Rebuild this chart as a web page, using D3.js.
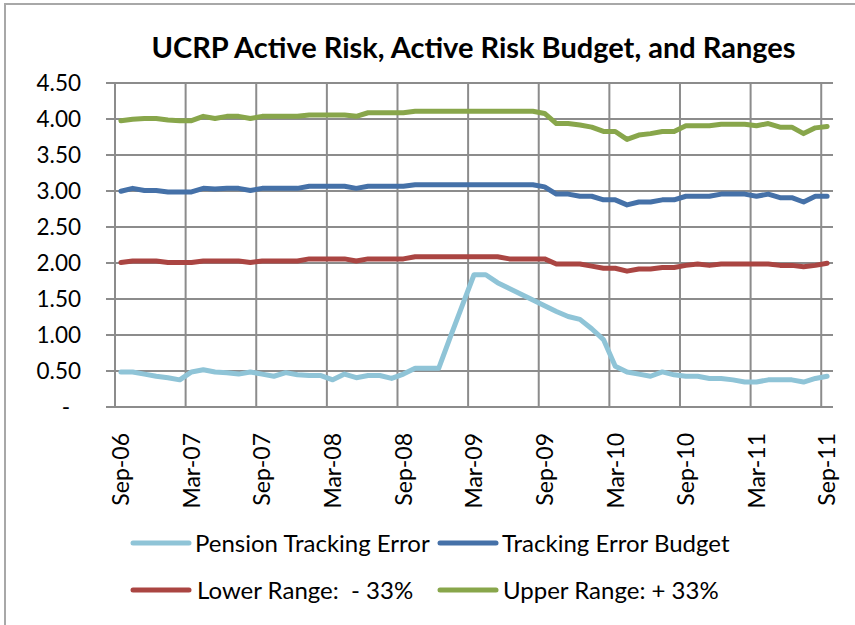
<!DOCTYPE html>
<html>
<head>
<meta charset="utf-8">
<script src="https://cdn.jsdelivr.net/npm/d3@7"></script>
<style>
  html, body { margin: 0; padding: 0; background: #fff; }
  svg { display: block; font-family: Lato, "Open Sans", sans-serif; }
</style>
</head>
<body>
<svg id="chart" width="855" height="625"></svg>
<script>
const title = "UCRP Active Risk, Active Risk Budget, and Ranges";

const months = [
  "Sep-06","Oct-06","Nov-06","Dec-06","Jan-07","Feb-07","Mar-07","Apr-07","May-07","Jun-07","Jul-07","Aug-07",
  "Sep-07","Oct-07","Nov-07","Dec-07","Jan-08","Feb-08","Mar-08","Apr-08","May-08","Jun-08","Jul-08","Aug-08",
  "Sep-08","Oct-08","Nov-08","Dec-08","Jan-09","Feb-09","Mar-09","Apr-09","May-09","Jun-09","Jul-09","Aug-09",
  "Sep-09","Oct-09","Nov-09","Dec-09","Jan-10","Feb-10","Mar-10","Apr-10","May-10","Jun-10","Jul-10","Aug-10",
  "Sep-10","Oct-10","Nov-10","Dec-10","Jan-11","Feb-11","Mar-11","Apr-11","May-11","Jun-11","Jul-11","Aug-11",
  "Sep-11"
];

const xTickLabels = ["Sep-06","Mar-07","Sep-07","Mar-08","Sep-08","Mar-09","Sep-09","Mar-10","Sep-10","Mar-11","Sep-11"];
const yTicks = [0, 0.5, 1, 1.5, 2, 2.5, 3, 3.5, 4, 4.5];

const pensionTrackingError = [
  0.48,0.48,0.45,0.42,0.40,0.37,0.48,0.51,0.48,0.47,0.45,0.48,
  0.45,0.42,0.47,0.44,0.43,0.43,0.37,0.45,0.40,0.43,0.43,0.39,
  0.45,0.53,0.53,0.53,0.97,1.40,1.83,1.83,1.72,1.64,1.56,1.48,
  1.40,1.32,1.25,1.21,1.08,0.93,0.56,0.48,0.45,0.42,0.48,0.44,
  0.42,0.42,0.39,0.39,0.37,0.34,0.34,0.37,0.37,0.37,0.34,0.39,
  0.42
];
const trackingErrorBudget = [
  2.99,3.03,3.00,3.00,2.98,2.98,2.98,3.03,3.02,3.03,3.03,3.00,
  3.03,3.03,3.03,3.03,3.06,3.06,3.06,3.06,3.03,3.06,3.06,3.06,
  3.06,3.08,3.08,3.08,3.08,3.08,3.08,3.08,3.08,3.08,3.08,3.08,
  3.05,2.95,2.95,2.92,2.92,2.87,2.87,2.80,2.84,2.84,2.87,2.87,
  2.92,2.92,2.92,2.95,2.95,2.95,2.92,2.95,2.90,2.90,2.84,2.92,
  2.92
];
const lowerRange = [
  2.00,2.02,2.02,2.02,2.00,2.00,2.00,2.02,2.02,2.02,2.02,2.00,
  2.02,2.02,2.02,2.02,2.05,2.05,2.05,2.05,2.02,2.05,2.05,2.05,
  2.05,2.08,2.08,2.08,2.08,2.08,2.08,2.08,2.08,2.05,2.05,2.05,
  2.05,1.98,1.98,1.98,1.95,1.92,1.92,1.88,1.91,1.91,1.93,1.93,
  1.96,1.98,1.96,1.98,1.98,1.98,1.98,1.98,1.96,1.96,1.94,1.96,
  1.99
];
const upperRange = [
  3.97,3.99,4.00,4.00,3.98,3.97,3.97,4.03,4.00,4.03,4.03,4.00,
  4.03,4.03,4.03,4.03,4.05,4.05,4.05,4.05,4.03,4.08,4.08,4.08,
  4.08,4.10,4.10,4.10,4.10,4.10,4.10,4.10,4.10,4.10,4.10,4.10,
  4.07,3.93,3.93,3.91,3.88,3.82,3.82,3.71,3.77,3.79,3.82,3.82,
  3.90,3.90,3.90,3.92,3.92,3.92,3.90,3.93,3.88,3.88,3.79,3.87,
  3.89
];

const seriesNames = ["Pension Tracking Error", "Tracking Error Budget", "Lower Range:  - 33%", "Upper Range: + 33%"];
const seriesColors = ["#8fc4d7", "#4571a8", "#aa4542", "#88a64b"];
const seriesValues = [pensionTrackingError, trackingErrorBudget, lowerRange, upperRange];

const svg = d3.select("#chart");

// outer chart border (right/bottom fall outside the picture)
svg.append("rect")
  .attr("x", 5).attr("y", 4).attr("width", 900).attr("height", 700)
  .attr("fill", "#fff").attr("stroke", "#a8a8a8").attr("stroke-width", 2);

const x = d3.scaleBand().domain(months).range([115, 833]).padding(0);
const y = d3.scaleLinear().domain([0, 4.5]).range([406.5, 82.5]);
const xc = d => x(d) + x.bandwidth() / 2;

const gridColor = "#8c8c8c";

// horizontal gridlines with y ticks
const yAxis = d3.axisLeft(y).tickValues(yTicks).tickSize(9).tickPadding(25)
  .tickFormat(d => d === 0 ? "-" : d3.format(".2f")(d));
const gy = svg.append("g").attr("transform", "translate(115,0)").call(yAxis);
gy.select(".domain").remove();
gy.selectAll(".tick line").attr("stroke", gridColor).attr("stroke-width", 2);
gy.selectAll(".tick").append("line")
  .attr("x1", 0).attr("x2", 833 - 115)
  .attr("stroke", gridColor).attr("stroke-width", 2);
gy.selectAll(".tick text")
  .attr("font-family", "Lato, sans-serif").attr("font-size", 22.5).attr("fill", "#000")
  .attr("dy", "0.36em")
  .attr("dx", d => d === 0 ? -11 : 0);

// vertical gridlines at every 6th month boundary
const gx = svg.append("g");
gx.selectAll("line").data(xTickLabels).join("line")
  .attr("x1", d => x(d)).attr("x2", d => x(d))
  .attr("y1", y(4.5)).attr("y2", y(0))
  .attr("stroke", gridColor).attr("stroke-width", 2);

// x tick labels (rotated)
gx.selectAll("text").data(xTickLabels).join("text")
  .attr("transform", d => `translate(${xc(d)},433) rotate(-90)`)
  .attr("text-anchor", "end")
  .attr("dy", "0.36em")
  .attr("font-size", 23).attr("fill", "#000")
  .text(d => d);

// series lines
const line = d3.line()
  .x((d, i) => xc(months[i]))
  .y(d => y(d));

svg.append("g").selectAll("path").data(seriesValues).join("path")
  .attr("d", d => line(d))
  .attr("fill", "none")
  .attr("stroke", (d, i) => seriesColors[i])
  .attr("stroke-width", 5)
  .attr("stroke-linejoin", "round")
  .attr("stroke-linecap", "round");

// title
svg.append("text")
  .attr("x", 473.5).attr("y", 58)
  .attr("text-anchor", "middle")
  .attr("font-weight", "bold").attr("font-size", 29).attr("fill", "#000")
  .text(title);

// legend
const legendPos = [
  { lx: 133, ly: 543, tx: 195 },
  { lx: 440, ly: 543, tx: 502 },
  { lx: 133, ly: 590, tx: 197 },
  { lx: 440, ly: 590, tx: 503 }
];
const lg = svg.append("g").selectAll("g").data(seriesNames).join("g");
lg.append("line")
  .attr("x1", (d, i) => legendPos[i].lx).attr("x2", (d, i) => legendPos[i].lx + 56)
  .attr("y1", (d, i) => legendPos[i].ly).attr("y2", (d, i) => legendPos[i].ly)
  .attr("stroke", (d, i) => seriesColors[i]).attr("stroke-width", 5)
  .attr("stroke-linecap", "round");
lg.append("text")
  .attr("x", (d, i) => legendPos[i].tx).attr("y", (d, i) => legendPos[i].ly)
  .attr("dy", "0.36em")
  .attr("font-size", 24).attr("fill", "#000")
  .attr("xml:space", "preserve")
  .style("white-space", "pre")
  .text(d => d);
</script>
</body>
</html>
